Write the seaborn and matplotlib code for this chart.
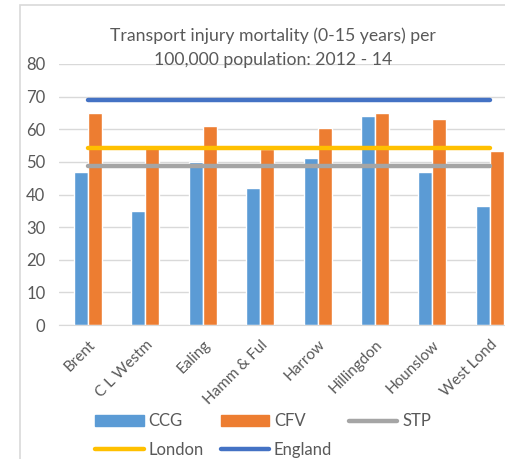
import numpy as np
import pandas as pd
import matplotlib
matplotlib.use("Agg")
import matplotlib.pyplot as plt
from matplotlib.patches import Patch, Rectangle
from matplotlib.lines import Line2D
import seaborn as sns

# data
areas = ["Brent", "C L Westm", "Ealing", "Hamm & Ful", "Harrow",
         "Hillingdon", "Hounslow", "West Lond"]
ccg = [47.0, 34.8, 50.1, 41.9, 51.2, 64.1, 47.0, 36.4]
cfv = [65.1, 55.1, 60.9, 54.0, 60.4, 64.9, 63.0, 53.3]
stp = 48.8
london = 54.3
england = 69.1

bar_cols = {"CCG": "#5B9BD5", "CFV": "#ED7D31"}
line_cols = {"STP": "#A5A5A5", "London": "#FFC000", "England": "#4472C4"}
txt = "#595959"

sns.set_style("white")
plt.rcParams["font.family"] = ["Lato", "DejaVu Sans"]

bars = pd.DataFrame({
    "area": areas * 2,
    "series": ["CCG"] * len(areas) + ["CFV"] * len(areas),
    "value": ccg + cfv,
})
lines = pd.DataFrame({
    "area": areas * 3,
    "series": ["STP"] * len(areas) + ["London"] * len(areas) + ["England"] * len(areas),
    "value": [stp] * len(areas) + [london] * len(areas) + [england] * len(areas),
})

fig = plt.figure(figsize=(5.06, 4.59), dpi=100)
# chart area border (cropped on the right like the original)
fig.patches.append(Rectangle((20 / 506, -0.1), 1.2, 1 - 5 / 459 + 0.1,
                             transform=fig.transFigure, fill=False,
                             edgecolor="#d9d9d9", lw=1.2))

ax = fig.add_axes([59.3 / 506, 1 - 325 / 459, 459.2 / 506, 261 / 459])
sns.barplot(data=bars, x="area", y="value", hue="series", palette=bar_cols,
            width=0.49, ax=ax, legend=False, saturation=1)
sns.lineplot(data=lines, x="area", y="value", hue="series", palette=line_cols,
             lw=3.2, ax=ax, legend=False, solid_capstyle="round")
ax.set_xlim(-0.5, len(areas) - 0.5)
ax.set_ylim(0, 80)
ax.set_yticks(range(0, 81, 10))
ax.yaxis.grid(True, color="#d9d9d9", lw=1)
ax.set_axisbelow(True)
for s in ["top", "right", "left"]:
    ax.spines[s].set_visible(False)
ax.spines["bottom"].set_color("#d9d9d9")
ax.set_xlabel("")
ax.set_ylabel("")
ax.tick_params(axis="y", length=0, pad=10, labelsize=12, labelcolor=txt)
ax.tick_params(axis="x", which="major", length=0, pad=9, labelsize=11, labelcolor=txt)
ax.set_xticks(np.arange(-0.5, len(areas), 1), minor=True)
ax.tick_params(axis="x", which="minor", length=5, color="#d9d9d9")
for lab in ax.get_xticklabels():
    lab.set_rotation(45)
    lab.set_ha("right")
    lab.set_rotation_mode("anchor")

fig.text(273 / 506, 1 - 48 / 459, "Transport injury mortality (0-15 years) per\n100,000 population: 2012 - 14",
         ha="center", va="center", fontsize=12.7, color=txt, linespacing=1.6)

h = {
    "CCG": Patch(color=bar_cols["CCG"]),
    "CFV": Patch(color=bar_cols["CFV"]),
    "STP": Line2D([], [], color=line_cols["STP"], lw=3.2, solid_capstyle="round"),
    "London": Line2D([], [], color=line_cols["London"], lw=3.2, solid_capstyle="round"),
    "England": Line2D([], [], color=line_cols["England"], lw=3.2, solid_capstyle="round"),
}
# legend fills column by column, so order gives rows CCG CFV STP / London England
order = ["CCG", "London", "CFV", "England", "STP"]
fig.legend([h[k] for k in order], order, ncol=3, loc="upper left",
           bbox_to_anchor=(87 / 506, 1 - 405 / 459),
           frameon=False, fontsize=12, labelcolor=txt, handlelength=2.9, handleheight=0.7,
           handletextpad=0.3, columnspacing=1.0, labelspacing=0.75, borderpad=0)

fig.savefig("out.png", dpi=100)
